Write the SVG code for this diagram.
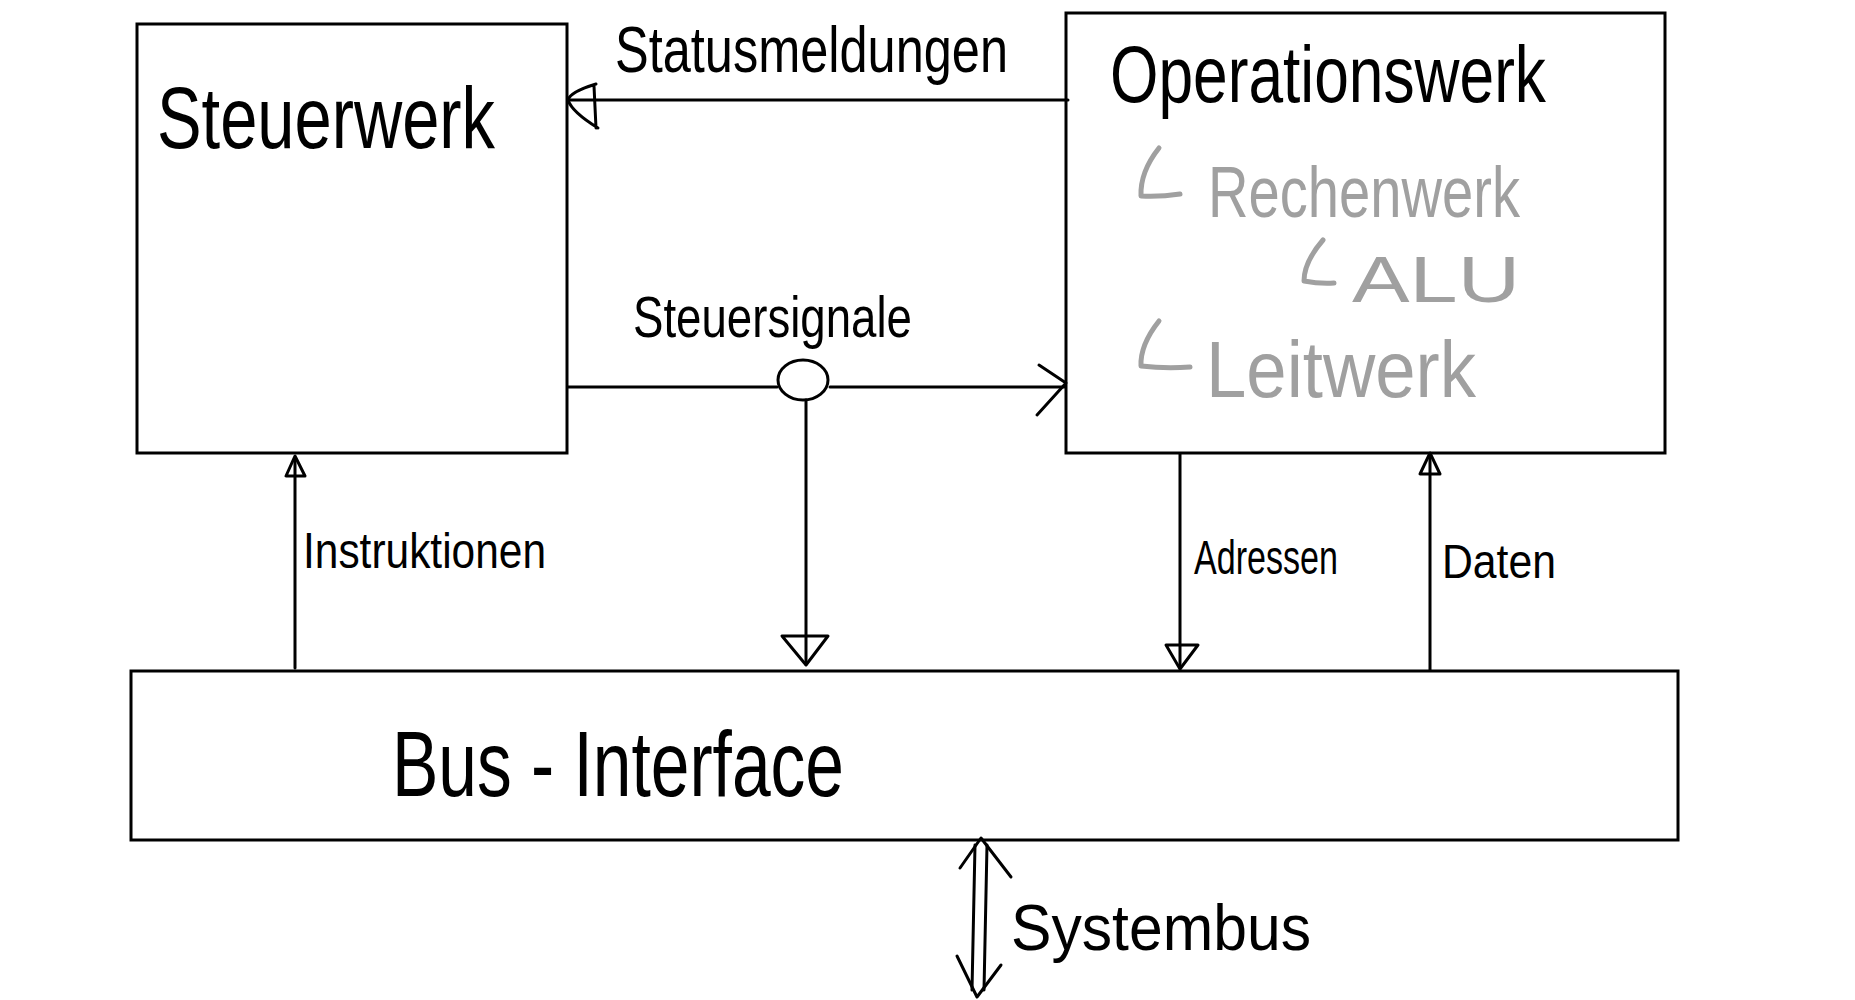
<svg xmlns="http://www.w3.org/2000/svg" width="1855" height="1000" viewBox="0 0 1855 1000">
<style>
.box{fill:#fff;stroke:#000;stroke-width:3}
.ln{fill:none;stroke:#000;stroke-width:3;stroke-linecap:round;stroke-linejoin:round}
.gl{fill:none;stroke:#a0a0a0;stroke-width:5;stroke-linecap:round;stroke-linejoin:round}
.t{font-family:"Liberation Sans","DejaVu Sans",sans-serif;fill:#000}
.g{font-family:"Liberation Sans","DejaVu Sans",sans-serif;fill:#a0a0a0}
</style>
<rect width="1855" height="1000" fill="#fff"/>
<g id="steuerwerk">
<rect class="box" x="137" y="24" width="430" height="429"/>
<text class="t" x="157" y="148" font-size="88" textLength="338" lengthAdjust="spacingAndGlyphs">Steuerwerk</text>
</g>
<g id="operationswerk">
<rect class="box" x="1066" y="13" width="599" height="440"/>
<text class="t" x="1110" y="102" font-size="80" textLength="436" lengthAdjust="spacingAndGlyphs">Operationswerk</text>
<path class="gl" d="M1159,148 Q1140,172 1141,196 Q1160,197 1180,194"/>
<text class="g" x="1208" y="217" font-size="72" textLength="312" lengthAdjust="spacingAndGlyphs">Rechenwerk</text>
<path class="gl" d="M1323,240 Q1304,262 1304,281 Q1320,284 1334,283"/>
<text class="g" x="1352" y="302" font-size="64" textLength="168" lengthAdjust="spacingAndGlyphs">ALU</text>
<path class="gl" d="M1159,321 Q1140,345 1141,366 Q1166,369 1190,367"/>
<text class="g" x="1206" y="397" font-size="80" textLength="270" lengthAdjust="spacingAndGlyphs">Leitwerk</text>
</g>
<g id="bus-interface">
<rect class="box" x="131" y="671" width="1547" height="169"/>
<text class="t" x="392" y="796" font-size="92" textLength="452" lengthAdjust="spacingAndGlyphs">Bus - Interface</text>
</g>
<g id="connectors">
<!-- Statusmeldungen -->
<line class="ln" x1="568" y1="100" x2="1068" y2="100"/>
<path class="ln" d="M596,84 Q570,92 568,100 Q572,112 598,128 M594,86 L596,128"/>
<text class="t" x="615" y="72" font-size="64" textLength="393" lengthAdjust="spacingAndGlyphs">Statusmeldungen</text>
<!-- Steuersignale -->
<line class="ln" x1="568" y1="387" x2="777" y2="387"/>
<line class="ln" x1="830" y1="387" x2="1064" y2="387"/>
<ellipse class="ln" cx="803" cy="380" rx="25" ry="20"/>
<path class="ln" d="M1039,365 L1066,383 L1037,415"/>
<text class="t" x="633" y="337" font-size="58" textLength="279" lengthAdjust="spacingAndGlyphs">Steuersignale</text>
<line class="ln" x1="806" y1="400" x2="806" y2="664"/>
<path class="ln" d="M782,636 L828,636 L806,665 Z"/>
<!-- Instruktionen -->
<line class="ln" x1="295" y1="668" x2="295" y2="458"/>
<path class="ln" d="M295,456 L286,476 L305,476 Z"/>
<text class="t" x="303" y="568" font-size="50" textLength="243" lengthAdjust="spacingAndGlyphs">Instruktionen</text>
<!-- Adressen -->
<line class="ln" x1="1180" y1="454" x2="1180" y2="668"/>
<path class="ln" d="M1166,645 L1198,645 L1180,669 Z"/>
<text class="t" x="1194" y="574" font-size="48" textLength="144" lengthAdjust="spacingAndGlyphs">Adressen</text>
<!-- Daten -->
<line class="ln" x1="1430" y1="670" x2="1430" y2="455"/>
<path class="ln" d="M1430,453 L1420,474 L1440,474 Z"/>
<text class="t" x="1442" y="578" font-size="48" textLength="114" lengthAdjust="spacingAndGlyphs">Daten</text>
<!-- Systembus -->
<path class="ln" d="M975,845 L972,990 M987,845 L984,990"/>
<path class="ln" d="M960,868 L981,838 L1011,877"/>
<path class="ln" d="M957,956 L977,997 L1001,965"/>
<text class="t" x="1011" y="950" font-size="64" textLength="300" lengthAdjust="spacingAndGlyphs">Systembus</text>
</g>
</svg>
